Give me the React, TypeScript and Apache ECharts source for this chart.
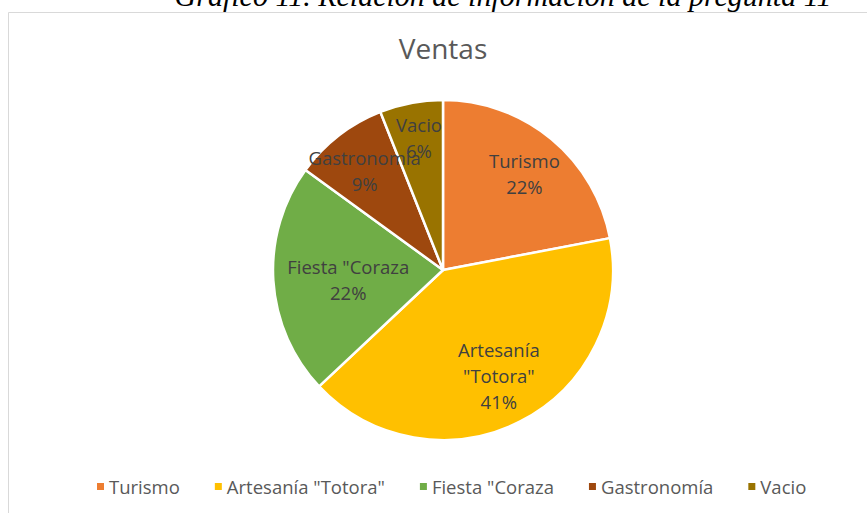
import React, { useEffect, useRef } from "react";
import * as echarts from "echarts";

const categories = ["Turismo", 'Artesanía "Totora"', 'Fiesta "Coraza', "Gastronomía", "Vacio"];
const labelTexts = ["Turismo", 'Artesanía\n"Totora"', 'Fiesta "Coraza', "Gastronomía", "Vacio"];
const values = [22, 41, 22, 9, 6];
const colors = ["#ED7D31", "#FFC000", "#70AD47", "#9E480E", "#997300"];
const labelOffsets = [[3, -2], [0, -4], [28, 2], [-3, -2], [-1, -12]];
const titleText = "Ventas";
const captionText = "Gráfico 11. Relación de información de la pregunta 11";

export default function App() {
  const ref = useRef<HTMLDivElement>(null);
  useEffect(() => {
    const chart = echarts.init(ref.current!, null, { renderer: "svg" });
    const data = categories.map((c, i) => ({ name: c, value: values[i], itemStyle: { color: colors[i] } }));
    const labelData = categories.map((c, i) => ({
      name: c,
      value: values[i],
      label: { formatter: labelTexts[i] + "\n" + values[i] + "%", offset: labelOffsets[i] },
    }));
    chart.setOption({
      animation: false,
      backgroundColor: "#ffffff",
      title: {
        text: titleText,
        left: 438,
        textAlign: "center",
        top: 29,
        textStyle: { fontFamily: "Open Sans", fontSize: 28, fontWeight: "normal", color: "#595959" },
      },
      legend: {
        data: categories,
        bottom: 12,
        left: 90,
        icon: "rect",
        itemWidth: 9,
        itemHeight: 9,
        itemGap: 33,
        textStyle: { fontFamily: "Open Sans", fontSize: 18.5, color: "#595959", padding: [0, 0, 0, -1] },
      },
      graphic: [
        {
          type: "polyline",
          shape: { points: [[8.5, 513], [8.5, 12.5], [867, 12.5]] },
          style: { stroke: "#d9d9d9", lineWidth: 1, fill: "none" },
          silent: true,
        },
        {
          type: "text",
          x: 503,
          y: -5,
          style: {
            text: captionText,
            font: "italic 30px 'Liberation Serif'",
            fill: "#000000",
            textAlign: "center",
            textVerticalAlign: "middle",
          },
          silent: true,
        },
      ],
      series: [
        {
          type: "pie",
          center: [443, 270],
          radius: [0, 170],
          startAngle: 90,
          clockwise: true,
          data,
          label: { show: false },
          labelLine: { show: false },
          itemStyle: { borderColor: "#ffffff", borderWidth: 2.5 },
          silent: true,
        },
        {
          type: "pie",
          center: [443, 270],
          radius: [70, 170],
          startAngle: 90,
          clockwise: true,
          avoidLabelOverlap: false,
          data: labelData,
          itemStyle: { color: "rgba(0,0,0,0)" },
          label: {
            show: true,
            position: "inside",
            fontFamily: "Open Sans",
            fontSize: 18.5,
            lineHeight: 26,
            color: "#404040",
          },
          labelLine: { show: false },
          labelLayout: { hideOverlap: false },
          silent: true,
        },
      ],
    });
    return () => chart.dispose();
  }, []);
  return <div ref={ref} style={{ position: "absolute", left: 0, top: 0, width: 867, height: 513 }} />;
}
